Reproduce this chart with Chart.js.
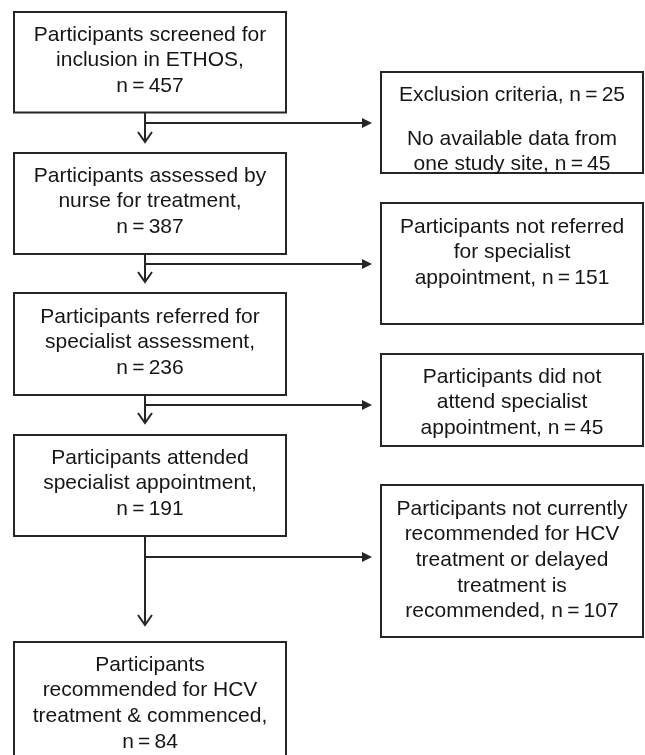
<!DOCTYPE html>
<html>
<head>
<meta charset="utf-8">
<script src="https://cdn.jsdelivr.net/npm/chart.js@4.4.0/dist/chart.umd.min.js"></script>
<style>
  html, body { margin: 0; padding: 0; background: #fff; }
  #wrap { width: 645px; height: 755px; }
</style>
</head>
<body>
<div id="wrap"><canvas id="flow"></canvas></div>
<script>
// --- DATA ---
// main stages (left column), the count goes on its own last line
const stageText = [
    ['Participants screened for', 'inclusion in ETHOS,'],
    ['Participants assessed by', 'nurse for treatment,'],
    ['Participants referred for', 'specialist assessment,'],
    ['Participants attended', 'specialist appointment,'],
    ['Participants', 'recommended for HCV', 'treatment & commenced,']
];
const stageCounts = [457, 387, 236, 191, 84];

// drop-outs (right column), {0} {1} = counts, '' = paragraph gap
const exitText = [
    ['Exclusion criteria, n\u2009=\u2009{0}', '', 'No available data from', 'one study site, n\u2009=\u2009{1}'],
    ['Participants not referred', 'for specialist', 'appointment, n\u2009=\u2009{0}'],
    ['Participants did not', 'attend specialist', 'appointment, n\u2009=\u2009{0}'],
    ['Participants not currently', 'recommended for HCV', 'treatment or delayed', 'treatment is', 'recommended, n\u2009=\u2009{0}']
];
const exitCounts = [[25, 45], [151], [45], [107]];

// --- LAYOUT (units of the 645 x 755 page) ---
const mainCol = { left: 14, right: 286, stem: 145 };
const exitCol = { left: 381, right: 643, arrowTip: 372 };
const mainRows = [[12, 112.5, 33], [153, 254, 174], [293, 395, 315], [435, 536, 456], [642, 800, 663]];
const exitRows = [[72, 173, 93], [203, 324, 225], [354, 446, 375], [485, 637, 507]];
const branchY = [123, 264, 405, 557];
const downTip = [142, 282, 423, 625];
const lineH = 25.7, gapH = 18.5;
const ink = '#262626', textInk = '#161616';
const font = '21px "Liberation Sans", Arial, sans-serif';

// --- ÇİZİM ---
const flowPlugin = {
    id: 'flow',
    afterDraw(chart) {
        const ctx = chart.ctx;
        const X = v => chart.scales.x.getPixelForValue(v);
        const Y = v => chart.scales.y.getPixelForValue(v);

        ctx.save();
        ctx.strokeStyle = ink;
        ctx.lineWidth = 2;

        function box(col, row) {
            ctx.strokeRect(X(col.left), Y(row[0]), X(col.right) - X(col.left), Y(row[1]) - Y(row[0]));
        }

        function lines(col, row, list) {
            ctx.fillStyle = textInk;
            ctx.font = font;
            ctx.textAlign = 'center';
            ctx.textBaseline = 'alphabetic';
            const cx = (X(col.left) + X(col.right)) / 2;
            let y = row[2];
            list.forEach(t => {
                if (t === '') { y += gapH; return; }
                ctx.fillText(t, cx, Y(y + 7.5));
                y += lineH;
            });
        }

        // boxes + text
        mainRows.forEach((row, i) => {
            box(mainCol, row);
            lines(mainCol, row, stageText[i].concat('n\u2009=\u2009' + stageCounts[i]));
        });
        exitRows.forEach((row, i) => {
            box(exitCol, row);
            const list = exitText[i].map(t => t.replace(/\{(\d)\}/g, (_, k) => exitCounts[i][+k]));
            lines(exitCol, row, list);
        });

        // down arrows (open head)
        const sx = X(mainCol.stem);
        downTip.forEach((tip, i) => {
            ctx.beginPath();
            ctx.moveTo(sx, Y(mainRows[i][1]));
            ctx.lineTo(sx, Y(tip));
            ctx.stroke();
            ctx.beginPath();
            ctx.moveTo(sx - 7, Y(tip - 10));
            ctx.lineTo(sx, Y(tip));
            ctx.lineTo(sx + 7, Y(tip - 10));
            ctx.stroke();
        });

        // side arrows (filled head)
        ctx.fillStyle = ink;
        branchY.forEach(by => {
            const y = Y(by);
            const tip = X(exitCol.arrowTip);
            ctx.beginPath();
            ctx.moveTo(sx, y);
            ctx.lineTo(tip - 9, y);
            ctx.stroke();
            ctx.beginPath();
            ctx.moveTo(tip - 10, y - 5);
            ctx.lineTo(tip, y);
            ctx.lineTo(tip - 10, y + 5);
            ctx.closePath();
            ctx.fill();
        });
        ctx.restore();
    }
};

new Chart(document.getElementById('flow').getContext('2d'), {
    type: 'scatter',
    data: { datasets: [{ data: [] }] },
    options: {
        responsive: true,
        maintainAspectRatio: false,
        animation: false,
        layout: { padding: 0 },
        plugins: { legend: { display: false }, tooltip: { enabled: false } },
        scales: {
            x: { type: 'linear', min: 0, max: 645, display: false },
            y: { type: 'linear', min: 0, max: 755, reverse: true, display: false }
        }
    },
    plugins: [flowPlugin]
});
</script>
</body>
</html>
